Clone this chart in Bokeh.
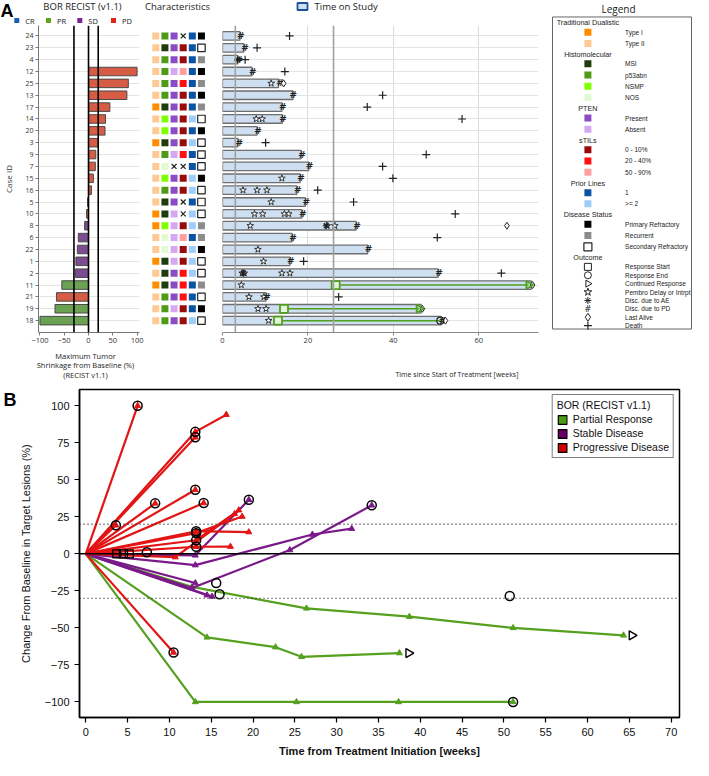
import math
from bokeh.plotting import figure
from bokeh.models import Range1d, FixedTicker, Span, Legend, LegendItem, LinearAxis
from bokeh.layouts import column, row
from bokeh.embed import file_html
from bokeh.resources import INLINE
from bokeh.core.properties import value

NAN = float("nan")

# ---------------- Panel A data ----------------
case_ids = ["24", "23", "4", "12", "25", "13", "17", "14", "20", "3", "9", "7",
            "15", "16", "5", "10", "8", "6", "22", "1", "2", "11", "21", "19", "18"]
bor = ["NE", "NE", "NE", "PD", "PD", "PD", "PD", "PD", "PD", "PD", "PD", "PD",
       "PD", "PD", "SD", "PD", "SD", "SD", "SD", "SD", "SD", "PR", "PD", "PR", "PR"]
max_shrinkage = [NAN, NAN, NAN, 100, 82, 79, 44, 35, 34, 20, 15, 14,
                 10, 6, -2, -4, -8, -21, -23, -26, -27, -55, -66, -69, -100]
dualistic = ["Type II", "Type II", "Type II", "Type II", "Type II", "Type II", "Type I", "Type II", "Type II", "Type I", "Type II", "Type II",
             "Type II", "Type II", "Type II", "Type I", "Type I", "Type II", "Type II", "Type I", "Type II", "Type I", "Type II", "Type II", "Type II"]
histomolecular = ["p53abn", "MSI", "p53abn", "p53abn", "p53abn", "p53abn", "MSI", "NSMP", "NSMP", "MSI", "p53abn", "NOS",
                  "NSMP", "p53abn", "MSI", "MSI", "NSMP", "NOS", "NOS", "MSI", "MSI", "MSI", "p53abn", "p53abn", "p53abn"]
pten = ["Present", "Present", "Present", "Absent", "Present", "Present", "Present", "Present", "Present", "Present", "Absent", "NA",
        "Present", "Present", "Present", "Absent", "Absent", "Absent", "Absent", "Absent", "Present", "Present", "Present", "Absent", "Present"]
stils = ["NA", "0 - 10%", "0 - 10%", "50 - 90%", "20 - 40%", "0 - 10%", "0 - 10%", "0 - 10%", "0 - 10%", "0 - 10%", "20 - 40%", "NA",
         "0 - 10%", "0 - 10%", "NA", "NA", "0 - 10%", "50 - 90%", "0 - 10%", "0 - 10%", "20 - 40%", "20 - 40%", "20 - 40%", "0 - 10%", "0 - 10%"]
prior_lines = ["1", "1", "1", "1", "1", "1", "1", ">= 2", "1", ">= 2", "1", "1",
               ">= 2", ">= 2", "1", ">= 2", ">= 2", "1", ">= 2", ">= 2", ">= 2", "1", "1", "1", ">= 2"]
disease_status = ["Primary Refractory", "Secondary Refractory", "Recurrent", "Primary Refractory", "Recurrent", "Primary Refractory",
                  "Recurrent", "Secondary Refractory", "Primary Refractory", "Secondary Refractory", "Secondary Refractory", "Secondary Refractory",
                  "Primary Refractory", "Secondary Refractory", "Secondary Refractory", "Secondary Refractory", "Recurrent", "Recurrent",
                  "Primary Refractory", "Secondary Refractory", "Secondary Refractory", "Recurrent", "Secondary Refractory", "Primary Refractory",
                  "Secondary Refractory"]
weeks_on_study = [4.1, 5.0, 3.6, 6.9, 13.1, 16.5, 13.9, 14.0, 8.1, 3.6, 18.4, 20.2,
                  18.2, 17.4, 19.4, 18.6, 31.3, 16.3, 34.0, 15.8, 50.5, 72.3, 10.2, 46.5, 51.2]

disc_pd_case = ["24", "23", "4", "12", "25", "13", "17", "14", "20", "3", "9", "7", "15", "16", "5", "10", "8", "6", "22", "1", "2", "21", "18"]
disc_pd_week = [4.3, 5.3, 3.9, 7.1, 13.5, 16.6, 14.1, 14.2, 8.3, 3.9, 18.6, 20.4, 18.4, 17.6, 19.6, 18.8, 31.5, 16.5, 34.2, 16.0, 50.7, 10.4, 51.5]
death_case = ["24", "23", "4", "12", "13", "17", "14", "3", "9", "7", "15", "16", "5", "10", "6", "1", "2", "21"]
death_week = [15.7, 8.1, 5.3, 14.6, 37.5, 33.9, 56.1, 10.1, 47.7, 37.5, 39.9, 22.3, 30.7, 54.5, 50.3, 19.0, 65.3, 27.2]
last_alive_case = ["25", "8", "11", "19", "18"]
last_alive_week = [14.3, 66.6, 72.6, 46.8, 52.2]
delay_case = ["25", "14", "14", "15", "16", "16", "16", "5", "10", "10", "10", "10", "8", "8", "8", "22", "1",
              "2", "2", "2", "2", "11", "21", "21", "19", "19", "18"]
delay_week = [11.4, 7.9, 9.3, 13.9, 4.8, 8.1, 10.4, 11.4, 7.5, 9.4, 14.5, 15.5, 6.5, 24.5, 26.3, 8.3, 9.6,
              4.6, 5.1, 13.9, 15.8, 4.4, 6.2, 9.7, 8.3, 10.2, 10.8]
disc_ae_case = ["4", "8", "2"]
disc_ae_week = [3.5, 24.3, 4.9]
resp_start_case = ["11", "19", "18"]
resp_start_week = [26.5, 14.4, 13.0]
cont_resp_case = ["11", "19"]
cont_resp_week = [71.7, 46.0]
resp_end_case = ["18"]
resp_end_week = [51.0]

# ---------------- Panel B data ----------------
pb_case = ["11", "19", "18", "5", "8", "22", "6", "1", "2",
           "12", "25", "13", "17", "20", "14", "3", "9", "7", "15", "16", "10", "21"]
pb_bor = ["PR", "PR", "PR", "SD", "SD", "SD", "SD", "SD", "SD",
          "PD", "PD", "PD", "PD", "PD", "PD", "PD", "PD", "PD", "PD", "PD", "PD", "PD"]
pb_weeks = [[0, 12.7, 26.4, 38.7, 51.1, 64.3], [0, 14.5, 22.7, 25.8, 37.5], [0, 13.1, 25.2, 37.4, 51.1],
            [0, 13.1, 19.5], [0, 13.1, 27.1, 31.8], [0, 12.7, 24.4, 34.2], [0, 13.1], [0, 14.5], [0, 15.1],
            [0, 6.2], [0, 13.1, 16.8], [0, 13.1], [0, 13.1], [0, 8.3], [0, 14.1], [0, 3.6],
            [0, 13.2, 19.5], [0, 13.2, 18.7], [0, 13.2, 18.3], [0, 13.2, 17.3], [0, 10.7, 17.8], [0, 10.5]]
pb_change = [[0, -22.3, -36.8, -42.4, -50, -55], [0, -56.4, -63, -69.5, -67], [0, -100, -100, -100, -100],
             [0, -1, 36.5], [0, -7.6, 13.1, 17], [0, -23, 2.6, 32.8], [0, -19.7], [0, -27.9], [0, -28.8],
             [0, 100], [0, 82.4, 94], [0, 78.7], [0, 43.3], [0, 34.1], [0, 34.3], [0, 19.3],
             [0, 15.3, 14.7], [0, 14, 25.2], [0, 9.2, 29.5], [0, 4.8, 4.9], [0, -2.2, 27], [0, -66.6]]
pb_end_week = [51.1, 19.5, 34.2, 15.6, 16.0, 50.7, 6.2, 13.1, 13.1, 13.1, 8.3, 14.1, 3.6, 13.2, 13.2, 13.2, 13.2, 10.5, 7.3]
pb_end_change = [-100, 36.5, 32.8, -19.7, -27.3, -28.4, 100, 82.4, 78.7, 43.3, 34.1, 34.3, 19.3, 15.3, 14.0, 9.2, 4.8, -66.6, 1.1]
pb_start_week = [3.7, 4.5, 5.2]
pb_start_change = [0, 0, 0]
pb_cont_week = [65.3, 38.6]
pb_cont_change = [-55, -67]

# ---------------- styles ----------------
bor_legend_colors = {"CR": "#1a5fb4", "PR": "#5da51b", "SD": "#7b2390", "PD": "#e0241b"}
bar_fill = {"PR": "#6ba153", "SD": "#7d4b92", "PD": "#d75c45"}
dual_colors = {"Type I": "#ff8c00", "Type II": "#ffc994"}
histo_colors = {"MSI": "#1f3d0c", "p53abn": "#4f9a16", "NSMP": "#7fff00", "NOS": "#e2fad2"}
pten_colors = {"Present": "#8a4cc4", "Absent": "#d6a8f2"}
stils_colors = {"0 - 10%": "#9b0a0a", "20 - 40%": "#ff1010", "50 - 90%": "#ff9f9f"}
prior_colors = {"1": "#0b54a3", ">= 2": "#9fcdf7"}
status_colors = {"Primary Refractory": "#000000", "Recurrent": "#8c8c8c", "Secondary Refractory": "#ffffff"}
line_colors_b = {"PR": "#55a01e", "SD": "#7a1a8a", "PD": "#e31414"}
legend_colors_b = {"PR": "#4d9a16", "SD": "#660066", "PD": "#cc0000"}
GREEN = "#4fa01b"
FA = "Open Sans"
FL = "Liberation Sans"
INK = "#222222"


def strip(width, height):
    """Figure whose frame is the whole canvas, in pixel units (y downward)."""
    p = figure(width=width, height=height, x_range=Range1d(0, width), y_range=Range1d(height, 0),
               output_backend="svg", toolbar_location=None,
               min_border_left=0, min_border_right=0, min_border_top=0, min_border_bottom=0)
    p.axis.visible = False
    p.grid.visible = False
    p.outline_line_color = None
    return p


def txt(p, x, y, t, size, font=FA, align="left", baseline="middle", color=INK, style="normal"):
    p.text(x=[x], y=[y], text=[t], text_font=value(font), text_font_size=size, text_align=align,
           text_baseline=baseline, text_color=color, text_font_style=style)


# ---------------- Panel A : top strip ----------------
LEFT_W = 545
top = strip(LEFT_W, 25)
txt(top, 0, 0, "A", "18px", font=FL, baseline="top", color="#000000", style="bold")
txt(top, 82, 6, "BOR RECIST (v1.1)", "9.5px", align="center")
for code, sx in zip(["CR", "PR", "SD", "PD"], [16.3, 48, 79.3, 113]):
    top.rect(x=[sx], y=[20], width=5, height=5, fill_color=bor_legend_colors[code], line_color=None)
    txt(top, sx + 8.5, 20, code, "7.5px")
txt(top, 177, 6, "Characteristics", "9.5px", align="center")
top.rect(x=[302], y=[6], width=10, height=7, fill_color="#cddff0", line_color="#1f4fa0", line_width=1.8)
txt(top, 314, 6, "Time on Study", "9.5px")

# ---------------- Panel A : main row ----------------
ROW_H, ROW_BOT = 325, 18
n = len(case_ids)
ypos = [n - i for i in range(n)]
row_of = dict(zip(case_ids, ypos))
y_range = Range1d(0, n + 0.88)


def a_fig(width, x_range, left, right):
    p = figure(width=width, height=ROW_H, x_range=x_range, y_range=y_range,
               output_backend="svg", toolbar_location=None,
               min_border_left=left, min_border_right=right,
               min_border_top=0, min_border_bottom=ROW_BOT)
    p.outline_line_color = None
    return p


wf = a_fig(147, Range1d(-103, 105), 33, 8)
idx = [i for i in range(n) if not math.isnan(max_shrinkage[i])]
wf.hbar(y=[ypos[i] for i in idx], left=0, right=[max_shrinkage[i] for i in idx], height=0.72,
        fill_color=[bar_fill[bor[i]] for i in idx], line_color="#4a4a4a", line_width=1)
for loc in (-30, 0, 20):
    wf.add_layout(Span(location=loc, dimension="height", line_color="black", line_width=1.6))
wf.xaxis.ticker = FixedTicker(ticks=[-100, -50, 0, 50, 100])
wf.yaxis.ticker = FixedTicker(ticks=ypos)
wf.yaxis.major_label_overrides = {ypos[i]: case_ids[i] for i in range(n)}
wf.xgrid.visible = False
wf.ygrid.ticker = FixedTicker(ticks=ypos)
wf.ygrid.grid_line_color = "#e4e4e4"
for ax in (wf.xaxis, wf.yaxis):
    ax.major_label_text_font = FA
    ax.major_label_text_font_size = "7.5px"
    ax.major_label_text_color = "#333333"
    ax.axis_line_color = "#777777"
    ax.major_tick_line_color = "#777777"
    ax.minor_tick_line_color = None
    ax.major_tick_out = 3
    ax.major_tick_in = 0
    ax.major_label_standoff = 2
wf.yaxis.major_label_text_font_size = "7px"
wf.yaxis.axis_label = "Case ID"
wf.yaxis.axis_label_text_font = FA
wf.yaxis.axis_label_text_font_size = "8px"
wf.yaxis.axis_label_text_font_style = "normal"
wf.yaxis.axis_label_text_color = "#333333"
wf.yaxis.axis_label_standoff = 8

ch = a_fig(67, Range1d(0.09, 7.43), 0, 0)
ch.axis.visible = False
ch.grid.visible = False
cols = [(dualistic, dual_colors), (histomolecular, histo_colors), (pten, pten_colors),
        (stils, stils_colors), (prior_lines, prior_colors)]
for c, (vals, cmap) in enumerate(cols, start=1):
    ok = [i for i in range(n) if vals[i] != "NA"]
    na = [i for i in range(n) if vals[i] == "NA"]
    ch.scatter(x=[c] * len(ok), y=[ypos[i] for i in ok], marker="square", size=7,
               fill_color=[cmap[vals[i]] for i in ok], line_color=None)
    if na:
        ch.scatter(x=[c] * len(na), y=[ypos[i] for i in na], marker="x", size=7,
                   line_color=INK, line_width=1.2)
filled = [i for i in range(n) if disease_status[i] != "Secondary Refractory"]
openq = [i for i in range(n) if disease_status[i] == "Secondary Refractory"]
ch.scatter(x=[6] * len(filled), y=[ypos[i] for i in filled], marker="square", size=7,
           fill_color=[status_colors[disease_status[i]] for i in filled], line_color=None)
ch.scatter(x=[6] * len(openq), y=[ypos[i] for i in openq], marker="square", size=7.5,
           fill_color="white", line_color=INK, line_width=1.2)

tf = a_fig(331, Range1d(0, 74), 8, 7)
tf.hbar(y=ypos, left=0, right=weeks_on_study, height=0.72, fill_color="#cddff0",
        line_color="#6e6e6e", line_width=1.3)
tf.yaxis.visible = False
tf.xaxis.ticker = FixedTicker(ticks=[0, 20, 40, 60])
tf.xgrid.ticker = FixedTicker(ticks=[0, 20, 40, 60])
tf.xgrid.grid_line_color = "#dcdcdc"
tf.ygrid.ticker = FixedTicker(ticks=ypos)
tf.ygrid.grid_line_color = "#e4e4e4"
tf.xaxis.major_label_text_font = FA
tf.xaxis.major_label_text_font_size = "7.5px"
tf.xaxis.major_label_text_color = "#333333"
tf.xaxis.axis_line_color = "#888888"
tf.xaxis.major_tick_line_color = "#888888"
tf.xaxis.minor_tick_line_color = None
tf.xaxis.major_tick_out = 3
tf.xaxis.major_tick_in = 0
tf.xaxis.major_label_standoff = 2
for loc in (3, 26):
    tf.add_layout(Span(location=loc, dimension="height", line_color="#a0a0a0", line_width=1.6))
resp_stop = dict(zip(resp_end_case, resp_end_week))
resp_stop.update(dict(zip(cont_resp_case, cont_resp_week)))
tf.segment(x0=resp_start_week, y0=[row_of[c] for c in resp_start_case],
           x1=[resp_stop[c] for c in resp_start_case], y1=[row_of[c] for c in resp_start_case],
           line_color=GREEN, line_width=1.5)
tf.scatter(x=delay_week, y=[row_of[c] for c in delay_case], marker="star", size=7,
           fill_color="white", line_color=INK, line_width=0.9)
tf.scatter(x=disc_ae_week, y=[row_of[c] for c in disc_ae_case], marker="asterisk", size=7,
           line_color=INK, line_width=1.1)
tf.text(x=disc_pd_week, y=[row_of[c] for c in disc_pd_case], text=["#"] * len(disc_pd_case),
        text_font=value("DejaVu Sans"), text_font_size="9px", text_font_style="bold",
        text_align="center", text_baseline="middle", text_color=INK)
tf.scatter(x=death_week, y=[row_of[c] for c in death_case], marker="cross", size=8,
           line_color=INK, line_width=1.2)
tf.scatter(x=last_alive_week, y=[row_of[c] for c in last_alive_case], marker="diamond", size=7,
           fill_color="white", line_color=INK, line_width=1)
tf.scatter(x=resp_start_week, y=[row_of[c] for c in resp_start_case], marker="square", size=8,
           fill_color="#e8f3df", line_color=GREEN, line_width=1.8)
tf.scatter(x=cont_resp_week, y=[row_of[c] for c in cont_resp_case], marker="triangle", size=8,
           angle=-math.pi / 2, fill_color=None, line_color=GREEN, line_width=1.8)
tf.scatter(x=resp_end_week, y=[row_of[c] for c in resp_end_case], marker="circle", size=7,
           fill_color=None, line_color=INK, line_width=1.2)

# ---------------- Panel A : bottom strip ----------------
bot = strip(LEFT_W, 30)
for k, t in enumerate(["Maximum Tumor", "Shrinkage from Baseline (%)", "(RECIST v1.1)"]):
    txt(bot, 85, 5 + 9.5 * k, t, "7.5px", align="center")
txt(bot, 518, 24, "Time since Start of Treatment [weeks]", "7px", align="right")

# ---------------- Panel A : legend ----------------
LW, LH = 148, 380
lg = strip(LW, LH)


def ly(ref):
    return 25 + (ref - 27) * 0.98


lg.quad(left=[7], right=[146], top=[ly(18.3)], bottom=[ly(336.7)], fill_color=None,
        line_color="#666666", line_width=1)
txt(lg, 73, 8, "Legend", "10px", align="center")
MX, TX = 42.4, 79.6
sections = [
    ("Traditional Dualistic", ["Type I", "Type II"], dual_colors),
    ("Histomolecular", ["MSI", "p53abn", "NSMP", "NOS"], histo_colors),
    ("PTEN", ["Present", "Absent"], pten_colors),
    ("sTILs", ["0 - 10%", "20 - 40%", "50 - 90%"], stils_colors),
    ("Prior Lines", ["1", ">= 2"], prior_colors),
    ("Disease Status", ["Primary Refractory", "Recurrent", "Secondary Refractory"], status_colors),
]
yref = 24.0
hy, hl = [], []
iy, il, icol = [], [], []
for head, items, cmap in sections:
    hy.append(ly(yref)); hl.append(head)
    yref += 9.8
    for j, it in enumerate(items):
        iy.append(ly(yref)); il.append(it); icol.append(cmap[it])
        yref += 11.45 if j < len(items) - 1 else 11.1
hy.append(ly(yref)); hl.append("Outcome")
lg.text(x=[MX] * len(hl), y=hy, text=hl, text_font=value(FL), text_font_size="7.2px",
        text_align="center", text_baseline="middle", text_color=INK)
sq_open = [k for k, c in enumerate(icol) if c == "#ffffff"]
sq_fill = [k for k, c in enumerate(icol) if c != "#ffffff"]
lg.scatter(x=[MX] * len(sq_fill), y=[iy[k] for k in sq_fill], marker="square", size=7,
           fill_color=[icol[k] for k in sq_fill], line_color=None)
lg.scatter(x=[MX] * len(sq_open), y=[iy[k] for k in sq_open], marker="square", size=8,
           fill_color="white", line_color=INK, line_width=1.2)
lg.text(x=[TX] * len(il), y=iy, text=il, text_font=value(FL), text_font_size="6.5px",
        text_align="left", text_baseline="middle", text_color=INK)
outcomes = ["Response Start", "Response End", "Continued Response", "Pembro Delay or Intrpt",
            "Disc. due to AE", "Disc. due to PD", "Last Alive", "Death"]
oy = [ly(273.3 + 8.57 * k) for k in range(len(outcomes))]
lg.text(x=[TX] * len(outcomes), y=oy, text=outcomes, text_font=value(FL), text_font_size="6.5px",
        text_align="left", text_baseline="middle", text_color=INK)
lg.scatter(x=[MX], y=[oy[0]], marker="square", size=7, fill_color=None, line_color=INK, line_width=1)
lg.scatter(x=[MX], y=[oy[1]], marker="circle", size=7, fill_color=None, line_color=INK, line_width=1)
lg.scatter(x=[MX], y=[oy[2]], marker="triangle", size=7, angle=-math.pi / 2, fill_color=None,
           line_color=INK, line_width=1)
lg.scatter(x=[MX], y=[oy[3]], marker="star", size=8, fill_color=None, line_color=INK, line_width=1)
lg.scatter(x=[MX], y=[oy[4]], marker="asterisk", size=7, line_color=INK, line_width=1)
lg.text(x=[MX], y=[oy[5]], text=["#"], text_font=value("DejaVu Sans"), text_font_size="8.5px",
        text_align="center", text_baseline="middle", text_color=INK)
lg.scatter(x=[MX], y=[oy[6]], marker="diamond", size=8, fill_color=None, line_color=INK, line_width=1)
lg.scatter(x=[MX], y=[oy[7]], marker="cross", size=8, line_color=INK, line_width=1.2)

# ---------------- Panel B ----------------
pb = figure(width=693, height=380, x_range=Range1d(-0.75, 71), y_range=Range1d(-110.5, 111),
            output_backend="svg", toolbar_location=None,
            min_border_left=73, min_border_right=14, min_border_top=9, min_border_bottom=43)
pb.outline_line_color = "black"
pb.outline_line_width = 1.5
pb.grid.visible = False
pb.xaxis.ticker = FixedTicker(ticks=list(range(0, 75, 5)))
pb.yaxis.ticker = FixedTicker(ticks=[-100, -75, -50, -25, 0, 25, 50, 75, 100])
for ax in (pb.xaxis, pb.yaxis):
    ax.major_label_text_font = FL
    ax.major_label_text_font_size = "11px"
    ax.major_label_text_color = "#111111"
    ax.axis_line_color = "black"
    ax.axis_line_width = 1.5
    ax.major_tick_line_color = "black"
    ax.major_tick_line_width = 1.2
    ax.major_tick_out = 5
    ax.major_tick_in = 0
    ax.minor_tick_line_color = None
    ax.axis_label_text_font = FL
    ax.axis_label_text_font_size = "11px"
    ax.axis_label_text_color = "#111111"
pb.xaxis.axis_label = "Time from Treatment Initiation [weeks]"
pb.xaxis.axis_label_text_font_style = "bold"
pb.xaxis.axis_label_standoff = 6
pb.yaxis.axis_label = "Change From Baseline in Target Lesions (%)"
pb.yaxis.axis_label_text_font_style = "normal"
pb.yaxis.axis_label_standoff = 10
panel_tag = LinearAxis(ticker=FixedTicker(ticks=[104]), major_label_overrides={104: "B"},
                       axis_line_color=None, major_tick_line_color=None, minor_tick_line_color=None,
                       major_tick_out=0, major_tick_in=0, major_label_standoff=0,
                       major_label_text_font=FL, major_label_text_font_size="18px",
                       major_label_text_font_style="bold", major_label_text_color="#000000")
pb.add_layout(panel_tag, "left")
pb.add_layout(Span(location=20, dimension="width", line_color="#333333", line_width=1.3, line_dash="1 3"))
pb.add_layout(Span(location=-30, dimension="width", line_color="#333333", line_width=1.3, line_dash="1 3"))
pb.add_layout(Span(location=0, dimension="width", line_color="black", line_width=1.5))
for w, c, b in zip(pb_weeks, pb_change, pb_bor):
    col = line_colors_b[b]
    pb.line(w, c, line_color=col, line_width=2.2)
    pb.scatter(w[1:], c[1:], marker="triangle", size=6, fill_color=col, line_color=col)
pb.scatter(pb_end_week, pb_end_change, marker="circle", size=9, fill_color=None,
           line_color="black", line_width=1.5)
pb.scatter(pb_start_week, pb_start_change, marker="square", size=8, fill_color=None,
           line_color="black", line_width=1.3)
pb.scatter(pb_cont_week, pb_cont_change, marker="triangle", size=9, angle=-math.pi / 2,
           fill_color="white", line_color="black", line_width=1.4)
items = []
for code, name in [("PR", "Partial Response"), ("SD", "Stable Disease"), ("PD", "Progressive Disease")]:
    # legend proxy: placed outside the visible range so only the legend swatch shows
    r = pb.quad(left=[-60], right=[-59], top=[-500], bottom=[-501], fill_color=legend_colors_b[code],
                line_color="black", line_width=1.2)
    items.append(LegendItem(label=name, renderers=[r]))
leg = Legend(items=items, location="top_right", title="BOR (RECIST v1.1)",
             border_line_color="black", border_line_width=1.5, background_fill_alpha=1,
             label_text_font=FL, label_text_font_size="10.5px", label_text_color="#111111",
             title_text_font=FL, title_text_font_size="10.5px", title_text_font_style="normal",
             title_text_color="#111111", title_standoff=2,
             glyph_width=11, glyph_height=11, label_height=12, label_standoff=5,
             spacing=2, padding=4, margin=5)
pb.add_layout(leg)

left_block = column(top, row(wf, ch, tf), bot)
layout = column(row(left_block, lg), pb)
open("out.html", "w").write(file_html(layout, INLINE))
